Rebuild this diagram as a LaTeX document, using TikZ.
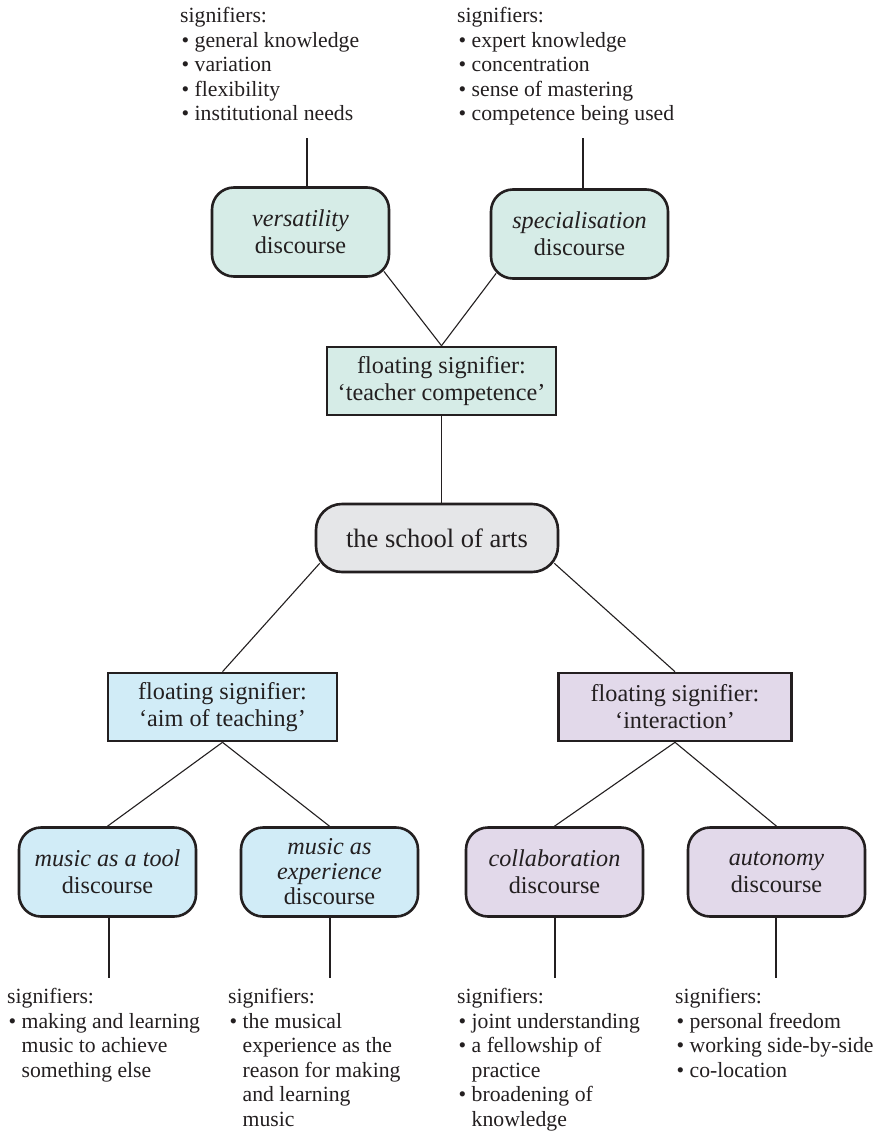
\documentclass[tikz,border=0pt]{standalone}
\usepackage{fontspec}
\setmainfont{Liberation Serif}
\usetikzlibrary{calc}
\definecolor{ink}{HTML}{231F20}
\definecolor{tealfill}{HTML}{D6ECE7}
\definecolor{bluefill}{HTML}{D1ECF7}
\definecolor{purplefill}{HTML}{E2D9EA}
\definecolor{grayfill}{HTML}{E5E6E8}
\newcommand{\nodefont}{\fontsize{24.2}{27}\selectfont}
\newcommand{\sigfont}{\fontsize{21.7}{24.6}\selectfont}
\newcommand{\itm}[1]{\makebox[14.5pt][l]{\hspace{1.5pt}•}#1}
\newcommand{\cnt}[1]{\hspace*{14.5pt}#1}
\tikzset{
  disc/.style={draw=ink, line width=2.6pt, rounded corners=22pt, minimum width=177pt,
    minimum height=89pt, align=center, text=ink, font=\nodefont, inner sep=0pt},
  fsig/.style={draw=ink, line width=2.6pt, minimum height=68pt, align=center,
    text=ink, font=\nodefont, inner sep=0pt},
  conn/.style={draw=ink, line width=1.1pt},
  sig/.style={anchor=north west, align=left, inner sep=0pt, text=ink, font=\sigfont},
}
\begin{document}
\begin{tikzpicture}[x=1pt,y=1pt]
\useasboundingbox[fill=white] (0,0) rectangle (880,-1132);

% discourse boxes
\node[disc, fill=tealfill] (vers) at (300.5,-232) {\textit{versatility}\\discourse};
\node[disc, fill=tealfill] (spec) at (579.5,-234) {\textit{specialisation}\\discourse};
\node[fsig, fill=tealfill, minimum width=229pt] (tc) at (441.5,-381) {floating signifier:\\‘teacher competence’};
\node[draw=ink, line width=2.6pt, rounded corners=26pt, minimum width=242pt, minimum height=68pt,
  fill=grayfill, text=ink, font=\fontsize{26.5}{30}\selectfont, inner sep=0pt] (school) at (437,-538) {the school of arts};
\node[fsig, fill=bluefill, minimum width=229pt] (aim) at (222.5,-707) {floating signifier:\\‘aim of teaching’};
\node[fsig, fill=purplefill, minimum width=233pt] (inter) at (675,-707) {floating signifier:\\‘interaction’};
\node[disc, fill=bluefill] (tool) at (107.5,-872) {\textit{music as a tool}\\discourse};
\node[disc, fill=bluefill, font=\fontsize{24.2}{25}\selectfont] (exper) at (329.5,-872) {\textit{music as}\\\textit{experience}\\discourse};
\node[disc, fill=purplefill] (collab) at (554.5,-872) {\textit{collaboration}\\discourse};
\node[disc, fill=purplefill] (auton) at (776.5,-872) {\textit{autonomy}\\discourse};

% signifier texts
\node[sig] (s1) at (180,-7) {signifiers:\\\itm{general knowledge}\\\itm{variation}\\\itm{flexibility}\\\itm{institutional needs}};
\node[sig] (s2) at (457,-7) {signifiers:\\\itm{expert knowledge}\\\itm{concentration}\\\itm{sense of mastering}\\\itm{competence being used}};
\node[sig] (s3) at (7,-988) {signifiers:\\\itm{making and learning}\\\cnt{music to achieve}\\\cnt{something else}};
\node[sig] (s4) at (228,-988) {signifiers:\\\itm{the musical}\\\cnt{experience as the}\\\cnt{reason for making}\\\cnt{and learning}\\\cnt{music}};
\node[sig] (s5) at (457,-988) {signifiers:\\\itm{joint understanding}\\\itm{a fellowship of}\\\cnt{practice}\\\itm{broadening of}\\\cnt{knowledge}};
\node[sig] (s6) at (675,-988) {signifiers:\\\itm{personal freedom}\\\itm{working side-by-side}\\\itm{co-location}};

% free ends of the signifier lines
\coordinate (t1) at (307,-138);
\coordinate (t2) at (583,-138);
\coordinate (b1) at (109,-978);
\coordinate (b2) at (330,-978);
\coordinate (b3) at (555,-978);
\coordinate (b4) at (776,-978);

% connectors
\draw[conn] (t1) -- (t1 |- vers.north);
\draw[conn] (t2) -- (t2 |- spec.north);
\draw[conn] ($(vers.south east)+(-6.4,6.4)$) -- (tc.north);
\draw[conn] ($(spec.south west)+(6.4,6.4)$) -- (tc.north);
\draw[conn] (tc.south) -- (tc.south |- school.north);
\draw[conn] ($(school.south west)+(5,10)$) -- (aim.north);
\draw[conn] ($(school.south east)+(-5,10)$) -- (inter.north);
\draw[conn] (aim.south) -- (tool.north);
\draw[conn] (aim.south) -- (exper.north);
\draw[conn] (inter.south) -- (collab.north);
\draw[conn] (inter.south) -- (auton.north);
\draw[conn] (tool.south -| b1) -- (b1);
\draw[conn] (exper.south -| b2) -- (b2);
\draw[conn] (collab.south -| b3) -- (b3);
\draw[conn] (auton.south -| b4) -- (b4);
\end{tikzpicture}
\end{document}
